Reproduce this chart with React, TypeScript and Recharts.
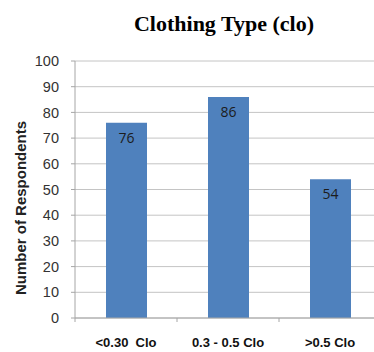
import { BarChart, Bar, XAxis, YAxis, CartesianGrid, LabelList } from "recharts";

const categories = ["<0.30  Clo", "0.3 - 0.5 Clo", ">0.5 Clo"];
const respondents = [76, 86, 54];
const yTicks = [0, 10, 20, 30, 40, 50, 60, 70, 80, 90, 100];

const data = categories.map((name, i) => ({ name, value: respondents[i] }));

const CHART_W = 381;
const AXIS_W = 75;
const BAND = (CHART_W - AXIS_W) / categories.length;

function CategoryTick(props: any) {
  const { x, y, payload, index } = props;
  const left = x - BAND / 2;
  return (
    <g>
      <line x1={left} y1={y} x2={left} y2={y + 4} stroke="#a6a6a6" />
      {index === categories.length - 1 && (
        <line x1={x + BAND / 2} y1={y} x2={x + BAND / 2} y2={y + 4} stroke="#a6a6a6" />
      )}
      <text
        x={x}
        y={y + 24}
        textAnchor="middle"
        dominantBaseline="central"
        fontFamily="'Liberation Sans', Arial, sans-serif"
        fontWeight="bold"
        fontSize={13}
        fill="#111"
        style={{ whiteSpace: "pre" }}
      >
        {payload.value}
      </text>
    </g>
  );
}

export default function App() {
  return (
    <div
      style={{
        position: "absolute",
        left: 0,
        top: 0,
        width: 374,
        height: 352,
        overflow: "hidden",
        background: "#fff",
      }}
    >
      <div
        style={{
          position: "absolute",
          left: 0,
          top: 13,
          width: 448,
          textAlign: "center",
          fontFamily: "'Liberation Serif', 'Times New Roman', serif",
          fontWeight: "bold",
          fontSize: 22,
          lineHeight: "22px",
          color: "#000",
        }}
      >
        Clothing Type (clo)
      </div>
      <BarChart
        width={CHART_W}
        height={352}
        data={data}
        margin={{ top: 61, right: 0, bottom: 0, left: 0 }}
        style={{ position: "absolute", left: 0, top: 0 }}
      >
        <CartesianGrid vertical={false} stroke="#c4c4c4" />
        <XAxis
          dataKey="name"
          height={34}
          interval={0}
          tickSize={0}
          tickMargin={0}
          tickLine={false}
          axisLine={{ stroke: "#a6a6a6" }}
          tick={<CategoryTick />}
        />
        <YAxis
          width={AXIS_W}
          domain={[0, 100]}
          ticks={yTicks}
          interval={0}
          tickSize={4}
          tickMargin={12}
          axisLine={{ stroke: "#a6a6a6" }}
          tickLine={{ stroke: "#a6a6a6" }}
          tick={{
            fontSize: 14.5,
            fill: "#333",
            fontFamily: "'Liberation Sans', Arial, sans-serif",
          }}
          label={() => {
            const cy = 208;
            return (
              <text
                x={20}
                y={cy}
                transform={`rotate(-90, 20, ${cy})`}
                textAnchor="middle"
                dominantBaseline="central"
                fontFamily="'Liberation Sans', Arial, sans-serif"
                fontWeight="bold"
                fontSize={15}
                fill="#222"
              >
                Number of Respondents
              </text>
            );
          }}
        />
        <Bar dataKey="value" fill="#4f81bd" barSize={41} isAnimationActive={false}>
          <LabelList
            dataKey="value"
            position="insideTop"
            offset={10}
            fill="#1c1c1c"
            fontSize={14}
            fontFamily="'Open Sans', 'Liberation Sans', sans-serif"
          />
        </Bar>
      </BarChart>
    </div>
  );
}
